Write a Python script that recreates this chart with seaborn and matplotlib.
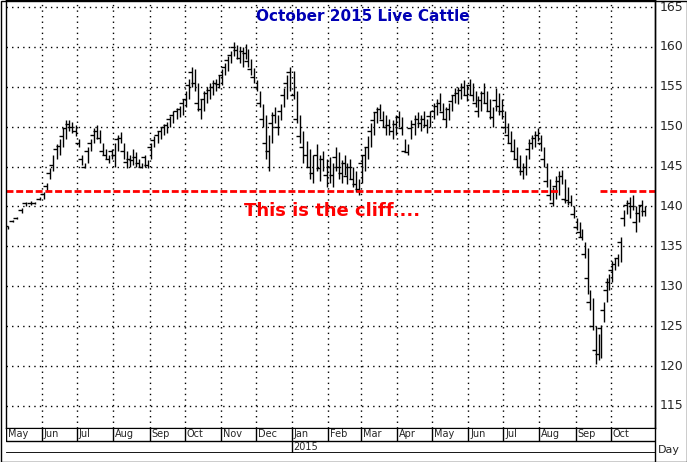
import matplotlib
matplotlib.use("Agg")
import matplotlib.pyplot as plt
import seaborn as sns
import pandas as pd
import numpy as np

# per-month bars: (low, high, close)
months = ["2014-05","2014-06","2014-07","2014-08","2014-09","2014-10","2014-11","2014-12",
          "2015-01","2015-02","2015-03","2015-04","2015-05","2015-06","2015-07","2015-08","2015-09","2015-10"]
bars = [
 [(137.2,137.6,137.5),(138.0,138.3,138.2),(138.4,138.7,138.6),(139.2,139.8,139.6),(140.0,140.6,140.4),(140.2,140.7,140.5),(140.3,140.6,140.4),(140.8,141.2,141.0)],
 [(141.0,141.8,141.6),(142.0,143.0,142.6),(143.5,144.8,144.2),(144.5,146.5,145.2),(146.0,147.8,147.2),(146.5,148.5,147.6),(147.5,149.8,148.8),(148.5,150.8,149.8),(149.5,150.8,150.4),(149.2,150.6,150.0),(148.8,150.2,149.5)],
 [(147.5,148.5,148.0),(145.2,146.5,146.0),(144.8,145.5,145.0),(145.5,147.5,147.0),(147.0,148.5,148.0),(148.0,149.8,149.0),(148.5,150.2,149.5),(148.0,149.6,148.6),(146.5,148.0,147.0),(146.0,147.2,146.5),(145.5,146.5,146.0),(146.0,147.2,147.0)],
 [(145.0,148.0,146.5),(147.0,149.0,148.4),(148.0,149.3,148.6),(146.0,148.0,147.0),(144.8,147.0,145.6),(145.0,146.5,146.0),(145.2,147.2,145.8),(145.0,146.8,146.2),(145.0,146.0,145.4),(144.8,145.5,145.0),(145.0,146.5,146.2),(144.8,145.8,145.2)],
 [(146.0,148.0,147.5),(147.5,148.8,148.3),(148.0,149.4,149.0),(148.5,150.0,149.5),(149.0,150.4,150.0),(149.2,150.6,150.2),(150.0,151.4,151.0),(150.5,152.0,151.5),(151.0,152.4,152.0),(151.2,152.6,152.2),(151.5,153.5,153.0)],
 [(152.5,154.5,153.5),(153.5,156.0,155.2),(155.0,157.5,156.8),(154.5,157.2,155.5),(152.0,155.5,153.0),(151.0,153.5,152.2),(152.0,154.5,153.5),(153.0,155.0,154.2),(153.5,155.5,154.6),(154.0,155.8,155.0),(154.5,156.0,155.5),(154.8,156.5,155.4)],
 [(155.2,157.2,156.5),(156.5,158.0,157.5),(157.0,158.8,158.3),(158.0,159.5,159.0),(158.8,160.6,160.0),(158.5,160.2,159.6),(158.0,160.0,158.6),(157.5,160.0,159.5),(158.5,160.4,159.2),(157.5,159.8,158.2),(156.5,158.5,157.2),(155.5,157.4,156.2)],
 [(154.5,155.8,155.0),(152.5,154.5,153.0),(150.0,152.8,151.0),(146.0,151.5,148.0),(144.4,149.0,147.0),(148.0,151.8,150.5),(150.5,152.5,151.5),(149.0,151.5,150.0),(150.8,152.8,152.0),(152.5,154.8,154.0),(153.5,156.5,155.5),(154.5,157.5,156.8)],
 [(153.5,157.0,154.0),(150.5,154.5,151.0),(148.0,151.5,148.8),(145.5,149.5,147.5),(145.0,148.2,146.5),(143.5,147.2,145.0),(143.0,146.5,144.2),(144.5,147.8,146.5),(143.2,146.5,144.8),(144.5,147.0,146.0),(142.5,146.0,144.0)],
 [(143.0,146.2,145.0),(142.5,145.5,144.0),(144.5,147.5,146.2),(143.5,146.8,145.0),(143.0,145.8,144.2),(144.0,146.5,145.5),(142.8,145.5,143.8),(143.5,146.0,145.0),(142.5,145.0,143.5),(141.8,144.5,142.8),(141.5,143.5,142.2)],
 [(143.0,146.5,145.5),(144.5,147.5,146.5),(146.0,148.8,147.5),(147.5,150.5,149.5),(149.0,151.8,150.8),(150.5,152.5,151.8),(151.0,152.8,152.2),(150.0,152.0,150.8),(149.0,151.5,150.0),(149.0,151.0,150.2),(148.5,150.8,149.4),(149.0,151.5,150.4)],
 [(150.0,152.0,151.2),(149.0,151.2,149.8),(146.8,148.5,147.0),(146.5,147.8,146.8),(148.5,150.8,149.8),(149.0,151.5,150.4),(150.0,151.8,151.0),(149.5,151.5,150.5),(150.0,152.0,151.0),(149.2,151.0,150.2),(150.0,152.0,151.4)],
 [(151.0,153.0,152.0),(151.5,153.5,152.6),(152.0,154.2,153.0),(151.0,153.0,151.8),(150.0,152.5,151.0),(150.8,153.0,152.2),(152.0,154.0,153.2),(153.0,154.8,154.0),(152.8,155.0,154.2),(153.5,155.5,154.6),(154.0,155.8,155.0),(153.2,155.2,154.0)],
 [(154.0,156.0,155.2),(153.2,155.5,154.0),(152.5,154.5,153.0),(151.2,153.8,152.0),(152.0,154.5,153.4),(153.0,155.5,154.2),(152.0,154.5,153.0),(151.0,153.5,152.0),(150.0,152.5,151.2),(152.0,154.8,153.4),(151.5,154.2,152.6),(151.0,153.5,152.0)],
 [(149.2,152.0,150.0),(148.0,150.5,149.0),(147.0,149.5,148.0),(146.0,148.5,147.0),(145.0,147.5,146.0),(144.0,146.5,145.0),(143.5,145.5,144.5),(144.0,146.5,145.0),(146.0,148.5,147.2),(147.2,149.0,148.0),(147.5,149.5,148.6),(148.2,149.8,149.0)],
 [(147.0,149.0,148.0),(145.0,147.5,146.0),(142.5,145.5,143.2),(140.8,143.5,141.5),(140.0,142.5,140.5),(141.0,143.8,142.6),(141.5,144.4,143.2),(142.8,144.6,143.8),(140.5,143.5,141.0),(140.2,142.5,140.8),(140.0,141.5,140.6),(138.5,140.0,139.0)],
 [(137.0,138.6,137.4),(136.2,138.0,136.8),(135.8,137.2,136.2),(133.5,135.5,134.0),(129.0,134.8,131.0),(127.0,129.5,128.0),(124.5,128.5,125.0),(120.2,125.0,122.0),(120.8,124.0,121.5),(121.0,125.2,124.8),(125.5,128.0,127.0),(128.0,131.0,129.5),(129.5,131.5,130.5)],
 [(130.5,133.2,132.0),(132.0,133.5,132.8),(132.5,134.0,133.5),(133.0,136.2,135.5),(137.5,139.5,138.5),(139.0,140.8,140.2),(138.5,141.2,140.5),(139.5,141.5,140.0),(136.8,140.0,138.0),(138.0,140.2,139.2),(138.8,140.8,140.2),(138.8,140.0,139.4)],
]
month_labels = ["May","Jun","Jul","Aug","Sep","Oct","Nov","Dec","Jan","Feb","Mar","Apr","May","Jun","Jul","Aug","Sep","Oct"]
yticks = [115,120,125,130,135,140,145,150,155,160,165]
cliff_level = 142

rows = []
for m, bl in zip(months, bars):
    start = pd.Timestamp(m + "-01")
    end = start + pd.offsets.MonthBegin(1)
    span = (end - start).days
    n = len(bl)
    for i, (lo, hi, cl) in enumerate(bl):
        d = start + pd.Timedelta(days=span * (i + 0.5) / n)
        rows.append(dict(date=d, low=lo, high=hi, close=cl))
df = pd.DataFrame(rows)
df["x"] = matplotlib.dates.date2num(df["date"])

sns.set_style("white")
plt.rcParams["font.family"] = ["DejaVu Sans"]
W, H = 687, 462
fig = plt.figure(figsize=(W/100, H/100), dpi=100)
ax = fig.add_axes([6/W, 1-428/H, 649/W, 428/H])

x0 = matplotlib.dates.date2num(pd.Timestamp("2014-05-01"))
x1 = matplotlib.dates.date2num(pd.Timestamp("2015-11-08"))
ax.set_xlim(x0, x1)
ax.set_ylim(112.24, 165.88)

month_starts = [matplotlib.dates.date2num(pd.Timestamp(m + "-01")) for m in months]
for ms in month_starts[1:]:
    ax.axvline(ms, color="black", lw=1, ls=(0, (1, 3)), zorder=0)
for yt in yticks:
    ax.axhline(yt, color="black", lw=1, ls=(0, (1, 3)), zorder=0)

ax.vlines(df["x"], df["low"], df["high"], color="black", lw=1.0)
sns.scatterplot(data=df, x="x", y="close", marker=0, s=10, color="black", linewidth=1.0, ax=ax, legend=False)

# cliff line with gap
gx = matplotlib.dates.date2num(pd.Timestamp("2015-08-19"))
gx2 = matplotlib.dates.date2num(pd.Timestamp("2015-09-22"))
ax.hlines(cliff_level, x0, gx, color="red", lw=2, ls=(0, (2.5, 1)))
ax.hlines(cliff_level, gx2, x1, color="red", lw=2, ls=(0, (2.5, 1)))

ax.set_xticks([]); ax.set_yticks([])
ax.set_xlabel(""); ax.set_ylabel("")
for s in ax.spines.values():
    s.set_color("black"); s.set_linewidth(1)

ax.text(0.55, 0.962, "October 2015 Live Cattle", transform=ax.transAxes, ha="center", va="center",
        color="#0000b4", fontsize=11, fontweight="bold")
ax.text(0.503, 0.507, "This is the cliff....", transform=ax.transAxes, ha="center", va="center",
        color="red", fontsize=13, fontweight="bold")

# right axis labels
for yt in yticks:
    ypix = 47 + (160 - yt) * 7.975
    fig.text(660/W, 1 - ypix/H, str(yt), ha="left", va="center", fontsize=9)
fig.text(658/W, 1 - 450/H, "Day", ha="left", va="center", fontsize=8)

# month strip
ax2 = fig.add_axes([6/W, 1-453/H, 649/W, 25/H])
ax2.set_xlim(x0, x1); ax2.set_ylim(0, 2)
ax2.set_xticks([]); ax2.set_yticks([])
ax2.axhline(1, color="black", lw=1)
for s in ax2.spines.values():
    s.set_visible(False)
ax2.axhline(2, color="black", lw=1.5)
ax2.axhline(0, color="black", lw=2)
for ms, lab in zip(month_starts, month_labels):
    ax2.vlines(ms, 1, 2, color="black", lw=1)
    ax2.text(ms + 1.5, 1.5, lab, ha="left", va="center", fontsize=7)
jan = matplotlib.dates.date2num(pd.Timestamp("2015-01-01"))
ax2.vlines(jan, 0, 1, color="black", lw=1)
ax2.text(jan + 1, 0.5, "2015", ha="left", va="center", fontsize=7)
fig.add_artist(plt.Rectangle((0.5/W, 0.5/H), 1-1/W, 1-1/H, transform=fig.transFigure, fill=False, lw=1, color="black"))
fig.add_artist(plt.Line2D([655/W, 655/W], [0, 1], transform=fig.transFigure, color="black", lw=1))

fig.savefig("out.png", dpi=100)
